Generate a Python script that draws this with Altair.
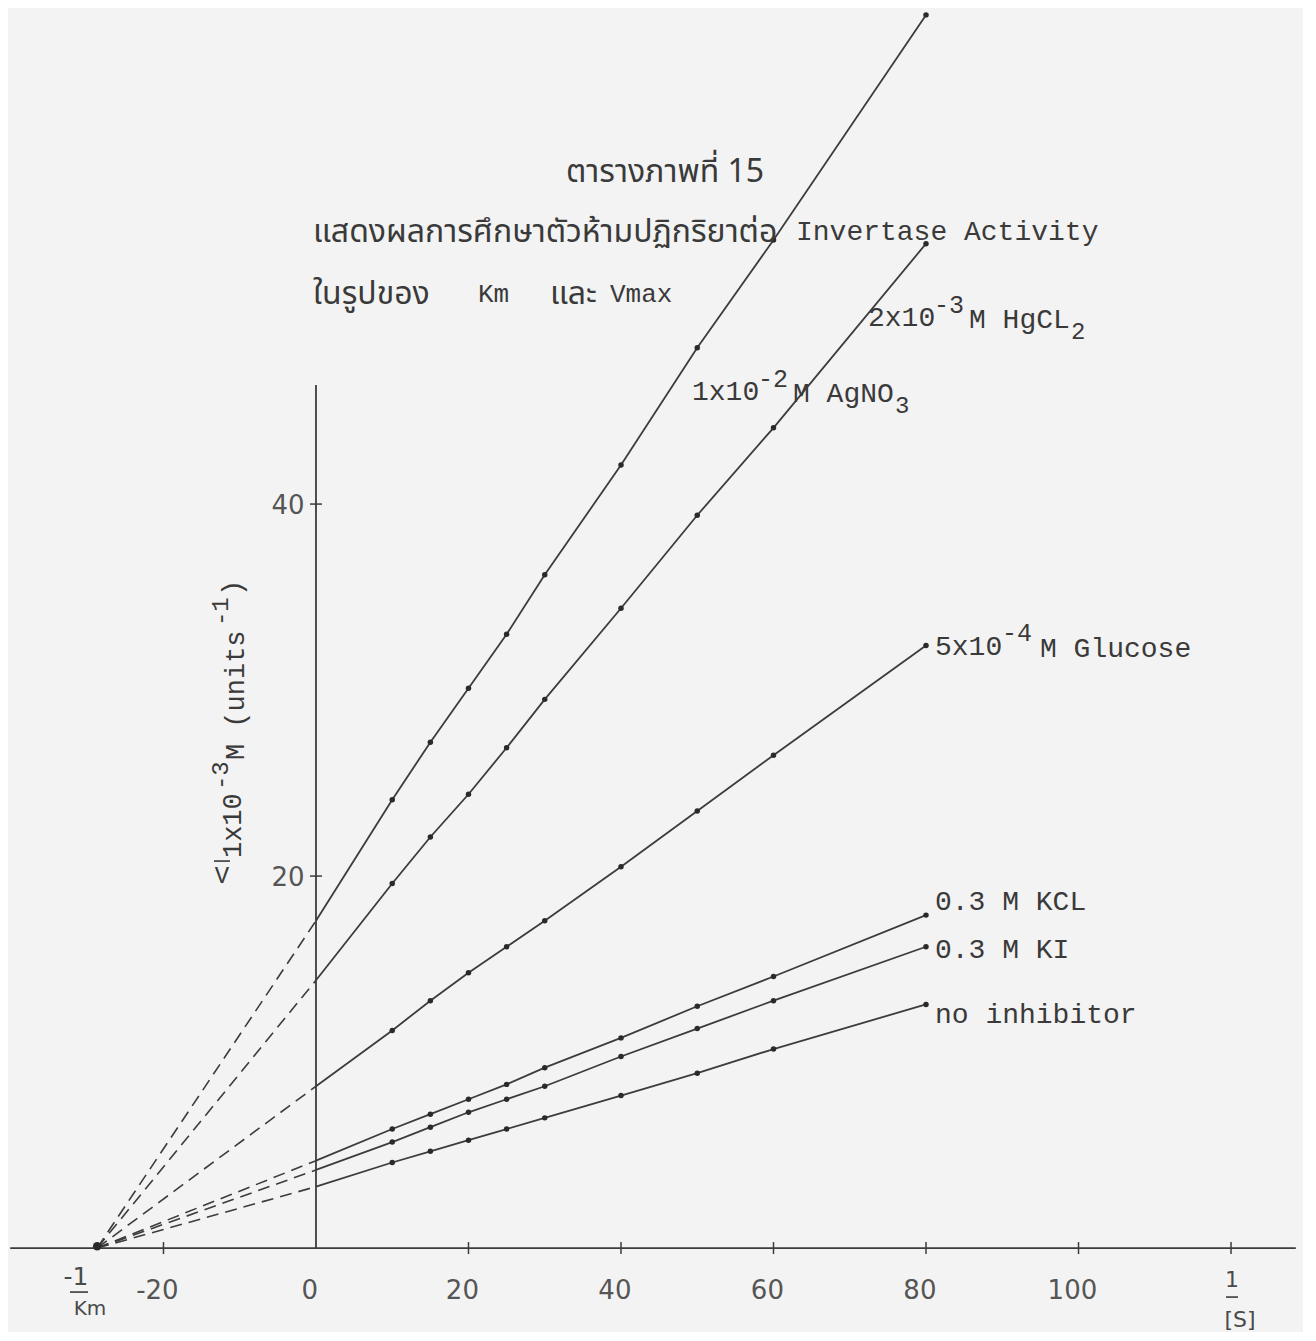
import altair as alt
import pandas as pd

# ---------------- values ----------------
inv_s = [10, 15, 20, 25, 30, 40, 50, 60, 80]          # 1/[S]
series = ["AgNO3", "HgCl2", "Glucose", "KCl", "KI", "none"]
agno3   = [24.1, 27.2, 30.1, 33.0, 36.2, 42.1, 48.4, 54.2, 66.3]
hgcl2   = [19.6, 22.1, 24.4, 26.9, 29.5, 34.4, 39.4, 44.1, 54.0]
glucose = [11.7, 13.3, 14.8, 16.2, 17.6, 20.5, 23.5, 26.5, 32.4]
kcl     = [6.4, 7.2, 8.0, 8.8, 9.7, 11.3, 13.0, 14.6, 17.9]
ki      = [5.7, 6.5, 7.3, 8.0, 8.7, 10.3, 11.8, 13.3, 16.2]
noinh   = [4.6, 5.2, 5.8, 6.4, 7.0, 8.2, 9.4, 10.7, 13.1]
intercepts = [17.6, 14.4, 8.7, 4.7, 4.2, 3.3]          # 1/V where 1/[S] = 0
neg_inv_km = -28.7                                      # -1/Km, where the dashed lines meet
x_tick_values = [-20, 0, 20, 40, 60, 80, 100]
x_tick_marks = [-20, 20, 40, 60, 80, 100, 120]
y_tick_values = [20, 40]

# ---------------- scales ----------------
W, H = 1295, 1318
XDOM = [-40.39, 129.44]
YDOM = [-4.19, 66.67]
PX = W / (XDOM[1] - XDOM[0])   # pixels per x unit
PY = H / (YDOM[1] - YDOM[0])   # pixels per y unit
XS = alt.Scale(domain=XDOM, nice=False, zero=False)
YS = alt.Scale(domain=YDOM, nice=False, zero=False)

INK = "#3c3c3c"
TXT = "#3a3a3a"
MONO = "Liberation Mono"
THAI = "Noto Sans Thai, Loma, Garuda, Norasi, Tlwg Typist, DejaVu Sans, sans-serif"
SANS = "DejaVu Sans"

# ---------------- tables ----------------
all_vals = [agno3, hgcl2, glucose, kcl, ki, noinh]
pts = pd.DataFrame([{"series": s, "x": x, "y": y}
                    for s, vals in zip(series, all_vals) for x, y in zip(inv_s, vals)])
solid = pd.concat([pd.DataFrame({"series": series, "x": [0] * 6, "y": intercepts}), pts])
dashed = pd.concat([
    pd.DataFrame({"series": series, "x": [neg_inv_km] * 6, "y": [0] * 6}),
    pd.DataFrame({"series": series, "x": [0] * 6, "y": intercepts}),
])


def rules(df, width=1.6, color=INK):
    return alt.Chart(df).mark_rule(color=color, strokeWidth=width).encode(
        x=alt.X("x:Q", scale=XS, axis=None), x2="x2:Q",
        y=alt.Y("y:Q", scale=YS, axis=None), y2="y2:Q")


def texts(df, font, color=TXT, align="left", angle=None, weight="normal"):
    kw = dict(font=font, color=color, align=align, baseline="middle", fontWeight=weight)
    if angle is not None:
        kw["angle"] = angle
    return alt.Chart(df).mark_text(**kw).encode(
        x=alt.X("x:Q", scale=XS, axis=None),
        y=alt.Y("y:Q", scale=YS, axis=None),
        text="t:N",
        size=alt.Size("s:Q", scale=None, legend=None),
    )


def at(px, py):
    return (px - 316) / PX, (1248 - py) / PY


def seg(x0, y0, parts):
    rows = []
    for off_px, dy_px, t, s in parts:
        rows.append({"x": x0 + off_px / PX, "y": y0 - dy_px / PY, "t": t, "s": s})
    return rows


# axes drawn at x = 0 and y = 0
axis_lines = pd.DataFrame({
    "x": [-40.1, 0], "x2": [128.5, 0],
    "y": [0, 0], "y2": [0, 46.4],
})
tx = 6 / PY
ty = 6 / PX
xticks = pd.DataFrame({"x": x_tick_marks, "x2": x_tick_marks,
                       "y": [-tx] * len(x_tick_marks), "y2": [tx] * len(x_tick_marks)})
yticks = pd.DataFrame({"x": [-ty] * 2, "x2": [ty] * 2, "y": y_tick_values, "y2": y_tick_values})

bars = []
for (pa, py) in [((70, 88), 1292), ((1226, 1238), 1297), ((214, 230), 861)]:
    xa, ya = at(pa[0], py)
    xb, _ = at(pa[1], py)
    bars.append({"x": xa, "x2": xb, "y": ya, "y2": ya})
frac_bars = pd.DataFrame(bars)

xlab = pd.DataFrame({"x": [v - 0.8 for v in x_tick_values],
                     "y": [-2.3] * len(x_tick_values),
                     "t": [str(v) for v in x_tick_values], "s": [26] * len(x_tick_values)})
ylab = pd.DataFrame({"x": [-1.5] * 2, "y": [v - 0.1 for v in y_tick_values],
                     "t": [str(v) for v in y_tick_values], "s": [26] * 2})
frac = []
frac += seg(*at(76, 1277), [(0, 0, "-1", 25)])
frac += seg(*at(90, 1309), [(0, 0, "Km", 20)])
frac += seg(*at(1232, 1280), [(0, 0, "1", 22)])
frac += seg(*at(1240, 1320), [(0, 0, "[S]", 22)])
frac_txt = pd.DataFrame(frac)

labels = []
labels += seg(*at(868, 318), [(0, 0, "2x10", 28), (66, -13, "-3", 25), (101, 2, "M HgCL", 28), (203, 14, "2", 24)])
labels += seg(*at(692, 392), [(0, 0, "1x10", 28), (66, -13, "-2", 25), (101, 2, "M AgNO", 28), (203, 14, "3", 24)])
labels += seg(*at(935, 647), [(0, 0, "5x10", 28), (67, -14, "-4", 25), (105, 2, "M Glucose", 28)])
labels += seg(*at(935, 902), [(0, 0, "0.3 M KCL", 28)])
labels += seg(*at(935, 950), [(0, 0, "0.3 M KI", 28)])
labels += seg(*at(935, 1015), [(0, 0, "no inhibitor", 28)])
labels += seg(*at(796, 232), [(0, 0, "Invertase Activity", 28)])
labels += seg(*at(478, 294), [(0, 0, "Km", 26)])
labels += seg(*at(610, 294), [(0, 0, "Vmax", 26)])
labels_df = pd.DataFrame(labels)

thai = []
thai += seg(*at(566, 172), [(0, 0, "ตารางภาพที่ 15", 32)])
thai += seg(*at(313, 232), [(0, 0, "แสดงผลการศึกษาตัวห้ามปฏิกริยาต่อ", 32)])
thai += seg(*at(313, 294), [(0, 0, "ในรูปของ", 32)])
thai += seg(*at(550, 294), [(0, 0, "และ", 32)])
thai_df = pd.DataFrame(thai)

# rotated y-axis title, reading upward
ytitle = []
for off, side, t, s in [(0, 0, "1x10", 27), (68, -12, "-3", 24), (98, 3, "M (units", 27),
                        (232, -12, "-1", 24), (262, 0, ")", 27)]:
    x0, y0 = at(233 + side, 858 - off)
    ytitle.append({"x": x0, "y": y0, "t": t, "s": s})
ytitle_df = pd.DataFrame(ytitle)
vlab = pd.DataFrame(seg(*at(222, 876), [(0, 0, "V", 24)]))

# ---------------- layers ----------------
dash_layer = alt.Chart(dashed).mark_line(color=INK, strokeWidth=1.6, strokeDash=[12, 7]).encode(
    x=alt.X("x:Q", scale=XS, axis=None), y=alt.Y("y:Q", scale=YS, axis=None), detail="series:N")
line_layer = alt.Chart(solid).mark_line(color=INK, strokeWidth=1.8).encode(
    x=alt.X("x:Q", scale=XS, axis=None), y=alt.Y("y:Q", scale=YS, axis=None), detail="series:N")
pt_layer = alt.Chart(pts).mark_circle(color="#2a2a2a", size=30, opacity=1).encode(
    x=alt.X("x:Q", scale=XS, axis=None), y=alt.Y("y:Q", scale=YS, axis=None))
meet = pd.DataFrame({"x": [neg_inv_km], "y": [0.1]})
meet_layer = alt.Chart(meet).mark_circle(color="#2a2a2a", size=70, opacity=1).encode(
    x=alt.X("x:Q", scale=XS, axis=None), y=alt.Y("y:Q", scale=YS, axis=None))

chart = alt.layer(
    rules(axis_lines, 1.8),
    rules(xticks, 1.5),
    rules(yticks, 1.5),
    rules(frac_bars, 1.6, TXT),
    dash_layer,
    line_layer,
    pt_layer,
    meet_layer,
    texts(xlab, SANS, color="#555555", align="center"),
    texts(ylab, SANS, color="#555555", align="right"),
    texts(frac_txt, SANS, color="#4a4a4a", align="center"),
    texts(labels_df, MONO),
    texts(thai_df, THAI),
    texts(ytitle_df, MONO, angle=270),
    texts(vlab, MONO, align="center"),
).properties(
    width=W, height=H, padding=0, background="#f3f3f3",
).configure_view(stroke=None)

chart.save("out.html", embed_options={"renderer": "svg", "actions": False})
